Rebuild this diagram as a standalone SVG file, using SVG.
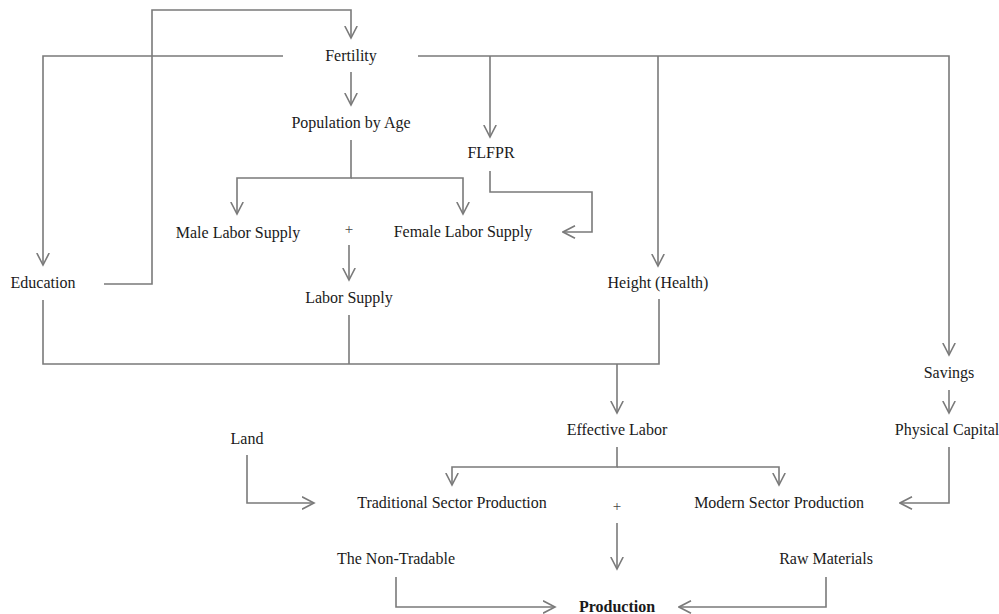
<svg xmlns="http://www.w3.org/2000/svg" width="999" height="614" viewBox="0 0 999 614">
<style>
.c{fill:none;stroke:#7a7a7a;stroke-width:1.6}
.a{marker-end:url(#arr)}
text{font-family:"Liberation Serif","DejaVu Serif",serif;font-size:16px;fill:#1a1a1a;text-anchor:middle}
.b{font-weight:bold}
.p{font-size:15px;fill:#444}
</style>
<defs>
<marker id="arr" markerUnits="userSpaceOnUse" viewBox="0 0 14 14" refX="12.5" refY="7" markerWidth="14" markerHeight="14" orient="auto">
<path d="M0.5,0.8 L12.5,7 L0.5,13.2" fill="none" stroke="#7a7a7a" stroke-width="1.6"/>
</marker>
</defs>
<rect width="999" height="614" fill="#fff"/>
<g id="connectors">
<path class="c a" d="M104,284 H152 V10 H351 V38"/>
<path class="c a" d="M283,56 H43 V265"/>
<path class="c a" d="M351,72 V105"/>
<path class="c a" d="M351,140 V178 H237 V214"/>
<path class="c a" d="M351,178 H463 V214"/>
<path class="c a" d="M349,245 V280"/>
<path class="c a" d="M418,56 H949 V355"/>
<path class="c a" d="M490,56 V137"/>
<path class="c a" d="M658,56 V266"/>
<path class="c a" d="M490,171 V192 H592 V232 H563"/>
<path class="c" d="M43,300 V364 H659 V299"/>
<path class="c" d="M349,315 V364"/>
<path class="c a" d="M617,364 V413"/>
<path class="c a" d="M949,390 V413"/>
<path class="c a" d="M617,447 V467 H452 V485"/>
<path class="c a" d="M617,467 H779 V485"/>
<path class="c a" d="M247,455 V503 H314"/>
<path class="c a" d="M949,447 V503 H900"/>
<path class="c a" d="M617,523 V569"/>
<path class="c a" d="M396,577 V607 H555"/>
<path class="c a" d="M826,577 V607 H679"/>
</g>
<g id="fertility"><text x="351" y="61">Fertility</text></g>
<g id="population"><text x="351" y="128">Population by Age</text></g>
<g id="flfpr"><text x="491" y="158">FLFPR</text></g>
<g id="male"><text x="238" y="238">Male Labor Supply</text></g>
<g id="plus1"><text class="p" x="349" y="234">+</text></g>
<g id="female"><text x="463" y="237">Female Labor Supply</text></g>
<g id="education"><text x="43" y="288">Education</text></g>
<g id="laborsupply"><text x="349" y="303">Labor Supply</text></g>
<g id="height"><text x="658" y="288">Height (Health)</text></g>
<g id="savings"><text x="949" y="378">Savings</text></g>
<g id="effective"><text x="617" y="435">Effective Labor</text></g>
<g id="physical"><text x="947" y="435">Physical Capital</text></g>
<g id="land"><text x="247" y="444">Land</text></g>
<g id="traditional"><text x="452" y="508">Traditional Sector Production</text></g>
<g id="plus2"><text class="p" x="617" y="511">+</text></g>
<g id="modern"><text x="779" y="508">Modern Sector Production</text></g>
<g id="nontradable"><text x="396" y="564">The Non-Tradable</text></g>
<g id="raw"><text x="826" y="564">Raw Materials</text></g>
<g id="production"><text class="b" x="617" y="612">Production</text></g>
</svg>
